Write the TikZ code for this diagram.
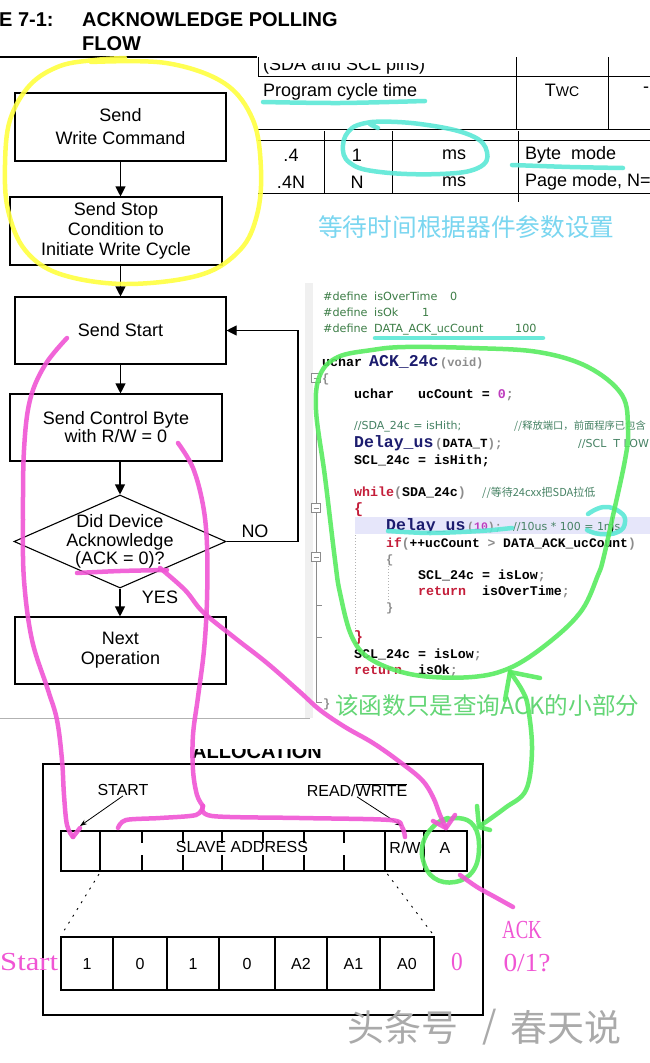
\documentclass[tikz,border=0pt]{standalone}
\usepackage{graphicx}
\usepackage{fontspec}
\setmainfont{Liberation Sans}
\newfontfamily\cmono{Liberation Mono}
\newfontfamily\csans{DejaVu Sans}
\newfontfamily\cjk{Noto Sans CJK SC}
\newfontfamily\pserif{Liberation Serif}
\usetikzlibrary{arrows.meta,shapes.geometric}
\newcommand\setfs[1]{\fontsize{#1}{#1}\selectfont}
\definecolor{hlpink}{RGB}{240,85,212}
\definecolor{hlgreen}{RGB}{88,236,96}
\definecolor{hlcyan}{RGB}{92,232,214}
\definecolor{hlyellow}{RGB}{255,255,64}
\definecolor{txtcyan}{RGB}{122,214,240}
\definecolor{txtgreen}{RGB}{100,214,118}
\definecolor{navyfn}{RGB}{28,28,110}
\definecolor{kwred}{RGB}{196,30,58}
\definecolor{pgray}{RGB}{140,140,140}
\definecolor{numpur}{RGB}{190,60,190}
\definecolor{cmtgreen}{RGB}{70,130,100}
\definecolor{defgreen}{RGB}{60,125,70}
\definecolor{curline}{RGB}{230,230,250}
\definecolor{wmgray}{RGB}{170,170,170}
\begin{document}
\begin{tikzpicture}[x=1pt,y=-1pt,
  fbox/.style={draw,line width=1.1pt,inner sep=0pt,align=center},
  flowarr/.style={line width=1.1pt,-{Triangle[width=10pt,length=10pt]}},
  thinarr/.style={line width=0.8pt,-{Stealth[length=7pt,width=5pt]}},
  tline/.style={line width=1pt},
  ttxt/.style={font=\setfs{18},inner sep=0pt},
  defl/.style={anchor=base west,inner sep=0pt,font=\csans\setfs{11.2},text=defgreen},
  code/.style={anchor=base west,inner sep=0pt,font=\cmono\bfseries\setfs{13.3}},
  fname/.style={anchor=base west,inner sep=0pt,font=\cmono\bfseries\setfs{16.5},text=navyfn},
  cmt/.style={anchor=base west,inner sep=0pt,font=\csans\setfs{11},text=cmtgreen},
  cmtc/.style={anchor=base west,inner sep=0pt,font=\cjk\setfs{11},text=cmtgreen},
  cell/.style={draw,line width=1.1pt,inner sep=0pt,font=\setfs{16}},
  rtxt/.style={font=\setfs{16},inner sep=0pt},
  ptxt/.style={font=\pserif\setfs{26},text=hlpink,inner sep=0pt},
  hl/.style={line width=4.5pt,line cap=round,line join=round,opacity=0.9},
  dotline/.style={line width=0.9pt,dash pattern=on 2pt off 6pt}
]
\path[use as bounding box,fill=white] (0,0) rectangle (650,1063);

% ---------- title ----------
\node[anchor=base west,inner sep=0pt,font=\bfseries\setfs{20}] (t1) at (-1,26) {E 7-1:};
\node[anchor=base west,inner sep=0pt,font=\bfseries\setfs{20}] (t2) at (82,26) {ACKNOWLEDGE POLLING};
\node[anchor=base west,inner sep=0pt,font=\bfseries\setfs{20}] (t3) at (82,50) {FLOW};
\draw[line width=2pt] (0,57) -- (257,57);

% ---------- table ----------
\begin{scope}
\clip (258,63) rectangle (515,76);
\node[anchor=base west,inner sep=0pt,font=\setfs{18}] (sda) at (263,70) {(SDA and SCL pins)};
\end{scope}
\draw[tline] (258,57) -- (258,76);
\draw[tline] (258,76) -- (650,76);
\draw[tline] (516,57) -- (516,129);
\draw[tline] (608,57) -- (608,129);
\draw[tline] (258,129) -- (650,129);
\draw[tline] (258,140) -- (650,140);
\draw[tline] (324,131) -- (324,193);
\draw[tline] (392,131) -- (392,193);
\draw[tline] (518,131) -- (518,202);
\draw[tline] (258,193) -- (650,193);
\node[ttxt,anchor=base west] (pct) at (263,96) {Program cycle time};
\node[ttxt] (twc) at (562,90) {T{\setfs{14}WC}};
\node[ttxt,anchor=west] (dash) at (643,90) {-};
\node[ttxt] (r1a) at (291,155) {.4};
\node[ttxt] (r1b) at (357,155) {1};
\node[ttxt] (r1c) at (454,155) {ms};
\node[ttxt,anchor=west] (r1d) at (525,155) {Byte\ \ mode};
\node[ttxt] (r2a) at (291,182) {.4N};
\node[ttxt] (r2b) at (357,182) {N};
\node[ttxt] (r2c) at (454,182) {ms};
\node[ttxt,anchor=west] (r2d) at (525,182) {Page mode, N=};
\node[anchor=west,inner sep=0pt,font=\cjk\setfs{24.7},text=txtcyan] (ctxt) at (318,227) {等待时间根据器件参数设置};

% ---------- flowchart ----------
\node[fbox,minimum width=211pt,minimum height=68pt,font=\fontsize{18}{23}\selectfont] (b1) at (120.5,127) {Send\\Write Command};
\node[fbox,minimum width=212pt,minimum height=68pt,font=\fontsize{18}{20}\selectfont] (b2) at (116,231) {Send Stop\\Condition to\\Initiate Write Cycle};
\node[fbox,minimum width=211pt,minimum height=67pt,font=\setfs{18}] (b3) at (120.5,330.5) {Send Start};
\node[fbox,minimum width=212pt,minimum height=67pt,font=\fontsize{18}{18}\selectfont] (b4) at (116,427.5) {Send Control Byte\\with R/W = 0};
\node[draw,diamond,line width=1.1pt,minimum width=212pt,minimum height=93pt,inner sep=0pt] (dec) at (120,541.5) {};
\node[align=center,inner sep=0pt,font=\fontsize{18}{18.5}\selectfont] (dect) at (120,541.5) {Did Device\\Acknowledge\\(ACK = 0)?};
\node[fbox,minimum width=211pt,minimum height=67pt,font=\fontsize{18}{20}\selectfont] (b5) at (120.5,650.5) {Next\\Operation};
\draw[flowarr] (b1.south) -- (b1.south |- b2.north);
\draw[flowarr] (b2.south -| b3.north) -- (b3.north);
\draw[flowarr] (b3.south) -- (b3.south |- b4.north);
\draw[flowarr] (b4.south -| dec.north) -- (dec.north);
\draw[flowarr] (dec.south) -- (dec.south |- b5.north);
\coordinate (noc) at (298,541.5);
\draw[flowarr] (dec.east) -- (noc) |- (b3.east);
\node[font=\setfs{18},inner sep=0pt] (no) at (255,531) {NO};
\node[font=\setfs{18},inner sep=0pt] (yes) at (160,597) {YES};
\draw[gray!60,line width=1pt] (0,718) -- (310,718);

% ---------- code ----------
\fill[gray!12] (305,283) rectangle (313,718);
\draw[pgray,line width=0.8pt] (316,374) -- (316,702);
\foreach \yy in {378,508,557} {
  \draw[pgray,fill=white,line width=0.8pt] (311.5,\yy-4.5) rectangle (320.5,\yy+4.5);
  \draw[pgray,line width=0.8pt] (313.5,\yy) -- (318.5,\yy);
}
\foreach \yy in {605,637,702} { \draw[pgray,line width=0.8pt] (316,\yy) -- (322,\yy); }
\fill[curline] (355,517) rectangle (650,534);
\draw[gray!60,line width=0.7pt,dash pattern=on 1pt off 2pt] (355,535) -- (355,632);
\draw[gray!60,line width=0.7pt,dash pattern=on 1pt off 2pt] (388,566) -- (388,602);

\node[defl] (d1a) at (323,300) {\#define};
\node[defl] (d1b) at (374,300) {isOverTime};
\node[defl] (d1c) at (450,300) {0};
\node[defl] (d2a) at (323,316) {\#define};
\node[defl] (d2b) at (374,316) {isOk};
\node[defl] (d2c) at (422,316) {1};
\node[defl] (d3a) at (323,332) {\#define};
\node[defl] (d3b) at (374,332) {DATA\_ACK\_ucCount};
\node[defl] (d3c) at (515,332) {100};
\node[code] (f1) at (322,366) {uchar};
\node[fname] (f2) at (369,366) {ACK\_24c};
\node[code,font=\cmono\bfseries\setfs{12},text=pgray] (f3) at (440,366) {(void)};
\node[code,text=pgray,font=\cmono\bfseries\setfs{12}] (ob1) at (322,382) {\{};
\node[code] (l1) at (354,398) {uchar~~~ucCount~=~\textcolor{numpur}{0}\textcolor{pgray}{;}};
\node[cmt] (l2) at (354,429) {//SDA\_24c = isHith;};
\node[cmtc,font=\cjk\setfs{10.3}] (l2c) at (514,429) {//释放端口，前面程序已包含};
\node[fname] (l3a) at (354,447) {Delay\_us};
\node[code,font=\cmono\bfseries\setfs{12.5}] (l3b) at (435,447) {\textcolor{pgray}{(}DATA\_T\textcolor{pgray}{);}};
\node[cmt] (l3c) at (578,447) {//SCL\ \ T LOW};
\node[code] (l4) at (354,464) {SCL\_24c = isHith;};
\node[code] (l5) at (354,496) {\textcolor{kwred}{while}\textcolor{pgray}{(}SDA\_24c\textcolor{pgray}{)}};
\node[cmtc] (l5c) at (482,496) {//等待24cxx把SDA拉低};
\node[code,text=kwred,font=\cmono\bfseries\setfs{15}] (l6) at (354,513) {\{};
\node[fname] (l7a) at (386,530) {Delay\_us};
\node[code,font=\cmono\bfseries\setfs{11.5}] (l7b) at (467,530) {\textcolor{pgray}{(}\textcolor{numpur}{10}\textcolor{pgray}{);}};
\node[cmt] (l7c) at (513,530) {//10us * 100 = 1ms};
\draw[line width=0.8pt] (612,517) -- (612,533);
\node[code,font=\cmono\bfseries\setfs{13}] (l8) at (386,547) {\textcolor{kwred}{if}\textcolor{pgray}{(}++ucCount \textcolor{pgray}{>} DATA\_ACK\_ucCount\textcolor{pgray}{)}};
\node[code,text=pgray,font=\cmono\bfseries\setfs{12}] (l9) at (386,563) {\{};
\node[code] (l10) at (418,579) {SCL\_24c = isLow\textcolor{pgray}{;}};
\node[code] (l11) at (418,595) {\textcolor{kwred}{return}~~isOverTime\textcolor{pgray}{;}};
\node[code,text=pgray,font=\cmono\bfseries\setfs{12}] (l12) at (386,611) {\}};
\node[code,text=kwred,font=\cmono\bfseries\setfs{15}] (l13) at (354,641) {\}};
\node[code] (l14) at (354,658) {SCL\_24c = isLow\textcolor{pgray}{;}};
\node[code] (l15) at (354,674) {\textcolor{kwred}{return}~~isOk\textcolor{pgray}{;}};
\node[code,text=pgray,font=\cmono\bfseries\setfs{12}] (l16) at (323,707) {\}};
\node[anchor=west,inner sep=0pt,font=\cjk\setfs{23.6},text=txtgreen] (gtxt) at (335,706) {该函数只是查询ACK的小部分};

% ---------- register allocation ----------
\begin{scope}
\clip (150,749) rectangle (360,762);
\node[anchor=base,inner sep=0pt,font=\bfseries\setfs{20}] (alloc) at (257,758) {ALLOCATION};
\end{scope}
\draw[line width=2pt] (43,764) rectangle (483,1015);
\node[rtxt] (lstart) at (123,790) {START};
\node[rtxt] (lrw) at (357,790) {READ/$\overline{\hbox{WRITE}}$};
\node[cell,minimum width=39pt,minimum height=40pt] (rs) at (80.5,851) {};
\node[cell,minimum width=285pt,minimum height=40pt] (rslave) at (242.5,851) {};
\node[cell,minimum width=39pt,minimum height=40pt] (rrw) at (404.5,851) {};
\node[cell,minimum width=43pt,minimum height=40pt] (rack) at (445.5,851) {};
\foreach \xx in {142,183,222,263,304,344} {
  \draw[line width=1.1pt] (\xx,831) -- (\xx,843);
  \draw[line width=1.1pt] (\xx,855) -- (\xx,871);
}
\node[rtxt] (slt) at (242,847) {SLAVE ADDRESS};
\node[rtxt] (rwt) at (405,848) {R/W};
\node[rtxt] (at) at (445,848) {A};
\coordinate (ar1) at (80,826);
\coordinate (ar2) at (402,826);
\draw[thinarr] (lstart.south) -- (ar1);
\draw[thinarr] (lrw.south) -- (ar2);
\node[cell,minimum width=52pt,minimum height=53pt] (k0) at (87,963.5) {1};
\node[cell,minimum width=54pt,minimum height=53pt] (k1) at (140,963.5) {0};
\node[cell,minimum width=52pt,minimum height=53pt] (k2) at (193,963.5) {1};
\node[cell,minimum width=56pt,minimum height=53pt] (k3) at (247,963.5) {0};
\node[cell,minimum width=52pt,minimum height=53pt] (k4) at (301,963.5) {A2};
\node[cell,minimum width=53pt,minimum height=53pt] (k5) at (353.5,963.5) {A1};
\node[cell,minimum width=54pt,minimum height=53pt] (k6) at (407,963.5) {A0};
\draw[dotline,shorten <=3pt,shorten >=4pt] (rs.south east) -- (k0.north west);
\draw[dotline,shorten <=3pt,shorten >=4pt] (rslave.south east) -- (k6.north east);

\node[ptxt,anchor=west] (pstart) at (0,962) {\scalebox{1.18}[1]{Start}};
\node[ptxt] (pzero) at (457,962) {\scalebox{0.9}[1]{0}};
\node[ptxt] (pack) at (522,930) {\scalebox{0.72}[1]{ACK}};
\node[ptxt] (p01) at (527,963) {\scalebox{1.05}[1]{0/1?}};

\node[anchor=west,inner sep=0pt,font=\cjk\setfs{37},text=wmgray] (wm1) at (347,1027) {头条号};
\node[inner sep=0pt,font=\cjk\setfs{37},text=wmgray] (wm2) at (490,1027) {/};
\node[anchor=west,inner sep=0pt,font=\cjk\setfs{37},text=wmgray] (wm3) at (510,1027) {春天说};

% ---------- highlights ----------
\draw[hl,hlyellow] plot[smooth,tension=0.6] coordinates {(91,62) (166,63) (224,83) (253,120) (261,170) (257,215) (240,250) (200,275) (125,284) (60,274) (25,250) (8,210) (5,165) (10,120) (30,85) (60,66) (95,60) (125,58)};

\draw[hl,hlcyan] plot[smooth] coordinates {(263,102) (340,103) (425,101)};
\draw[hl,hlcyan] plot[smooth,tension=0.7] coordinates {(378,128) (372,122) (420,124) (470,135) (487,152) (478,168) (440,174) (380,172) (350,163) (343,145) (352,128) (372,122)};
\draw[hl,hlcyan] plot[smooth] coordinates {(512,165) (570,167) (623,168)};
\draw[hl,hlcyan] (375,338) -- (543,338);
\draw[hl,hlcyan] plot[smooth] coordinates {(388,531) (430,533) (480,531) (512,528)};
\draw[hl,hlcyan] plot[smooth,tension=0.8] coordinates {(588,514) (604,507) (620,512) (625,522) (618,532) (600,534) (587,530)};

\draw[hl,hlgreen] plot[smooth cycle,tension=0.6] coordinates {(405,347) (472,348) (538,352) (588,367) (622,395) (628,430) (625,460) (612,520) (603,560) (598,575) (582,610) (552,640) (512,667) (472,677) (415,675) (372,660) (352,637) (340,593) (335,560) (325,477) (316,410) (320,375) (338,357) (372,350)};
\draw[hl,hlgreen] plot[smooth,tension=0.6] coordinates {(510,672) (522,690) (528,707) (532,750) (526,790) (505,808) (480,826)};
\draw[hl,hlgreen] (540,678) -- (510,672) -- (505,700);
\draw[hl,hlgreen] (477,806) -- (479,827) -- (490,830);
\draw[hl,hlgreen] plot[smooth,tension=0.7] coordinates {(438,823) (458,818) (474,826) (479,848) (473,871) (455,882) (434,878) (423,860) (424,840) (436,824) (448,818)};

\draw[hl,hlpink] plot[smooth,tension=0.6] coordinates {(67,338) (45,365) (30,400) (24,450) (23,520) (24,580) (32,640) (48,690) (57,720) (62,760) (64,795) (67,825) (73,837)};
\draw[hl,hlpink] (73,837) -- (80,828);
\draw[hl,hlpink] plot[smooth,tension=0.6] coordinates {(178,443) (193,468) (203,505) (207,545) (207,600) (204,650) (198,697) (193,735) (193,770) (197,795) (203,806)};
\draw[hl,hlpink] plot[smooth,tension=0.5] coordinates {(118,828) (126,820) (160,818) (196,815) (203,806)};
\draw[hl,hlpink] plot[smooth,tension=0.5] coordinates {(203,806) (212,816) (300,818) (390,820) (402,827) (405,837)};
\draw[hl,hlpink] plot[smooth] coordinates {(77,573) (120,571) (167,570)};
\draw[hl,hlpink] plot[smooth,tension=0.6] coordinates {(160,568) (185,590) (203,612) (235,638) (267,663) (300,692) (320,710) (345,727) (373,743) (400,762) (422,780) (433,797) (440,815) (446,828)};
\draw[hl,hlpink] (433,821) -- (446,828) -- (455,815);
\draw[hl,hlpink] plot[smooth] coordinates {(460,875) (477,887) (495,897) (513,907)};
\end{tikzpicture}
\end{document}
